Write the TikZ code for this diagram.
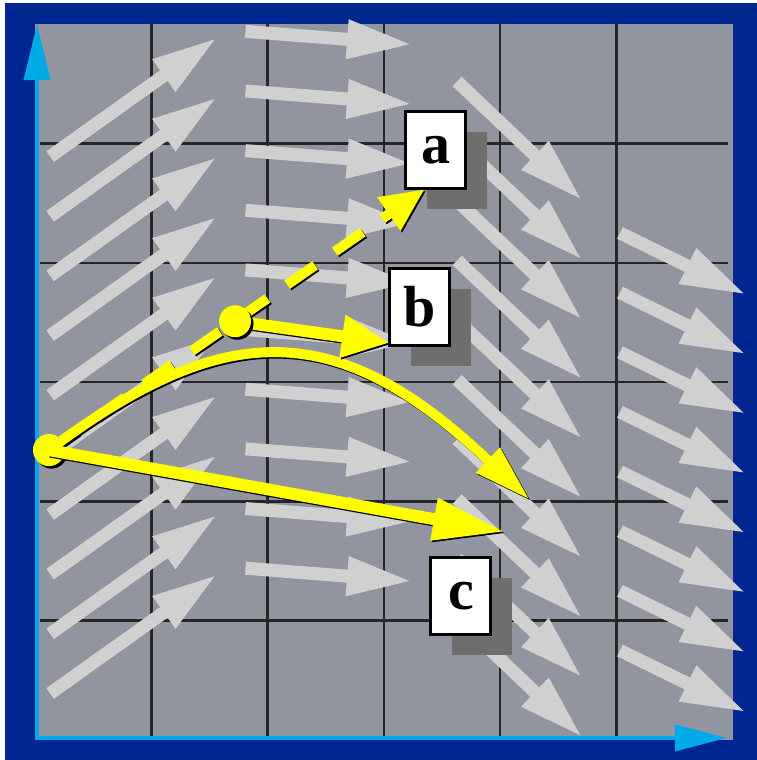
\documentclass[tikz,border=0pt]{standalone}
\usepackage{fontspec}
\setmainfont{Liberation Serif}
\usepackage{tikz}
\usetikzlibrary{arrows.meta,shadows}
\definecolor{FrameBlue}{HTML}{002691}
\definecolor{PanelGrey}{HTML}{9294A0}
\definecolor{FieldGrey}{HTML}{D0D0D0}
\definecolor{AxisBlue}{HTML}{00AAE6}
\definecolor{ShadowGrey}{HTML}{6E6E6E}
\definecolor{PathYellow}{HTML}{FFFF00}

\begin{document}
\begin{tikzpicture}[x=116.3pt, y=119.3pt,
  field/.style={FieldGrey, line width=13pt, -{Triangle[length=66pt, width=36pt]}},
  trace shadow/.style={transform canvas={shift={(1.5pt,-1.5pt)}}},
  trace/.style 2 args={PathYellow, line width=#1, -{#2},
    preaction={draw=black, line width=#1, -{#2}, trace shadow}},
  dot/.style={circle, fill=PathYellow, inner sep=0pt, minimum size=32pt,
    drop shadow={shadow xshift=2.5pt, shadow yshift=-2.5pt, fill=black, opacity=1}},
  tag/.style={draw, fill=white, line width=3pt, minimum width=60pt, minimum height=77pt, inner sep=0pt,
    font=\fontsize{58pt}{60pt}\selectfont\bfseries,
    drop shadow={shadow xshift=21pt, shadow yshift=-21pt, fill=ShadowGrey, opacity=1}}]
  \useasboundingbox (-0.301,-0.168) rectangle (6.208,6.203);
  \fill[FrameBlue] (-0.258,-0.168) rectangle (6.208,6.178);
  \fill[PanelGrey] (0,0) rectangle (6,6);
  \foreach \i in {1,...,5} {
    \draw[line width=2.5pt, black!85] (\i,0) -- (\i,6);
    \draw[line width=2.5pt, black!85] (0.04,\i) -- (5.96,\i);
  }
  \foreach \k in {0,...,9} {
    \draw[field] (0.13,4.89-0.5*\k) -- ++(1.44,1.0);
    \draw[field] (1.81,5.94-0.5*\k) -- ++(1.44,-0.11);
    \draw[field] (3.63,5.52-0.5*\k) -- ++(1.08,-1.0);
  }
  \foreach \k in {0,...,7}
    \draw[field] (5.03,4.25-0.5*\k) -- ++(1.09,-0.52);
  \draw[AxisBlue, line width=4pt, line join=round, {Triangle[length=56pt, width=26pt]}-{Triangle[length=52pt, width=26pt]}]
    (0.017,6) -- (0.017,0.017) -- (5.95,0.017);

  \node[dot] (start) at (0.12,2.43) {};
  \coordinate (mid) at (1.72,3.51);
  \coordinate (toA) at (3.353,4.618);
  \coordinate (toB) at (3.052,3.328);
  \coordinate (bend) at (4.256,2.012);
  \coordinate (toC) at (4.041,1.744);
  \draw[trace shadow/.append style={dash pattern=on 34pt off 24pt},
    trace={10pt}{Triangle[length=44pt, width=38pt]}, dash pattern=on 34pt off 24pt] (start.center) -- (toA);
  \draw[trace={10pt}{Triangle[length=58pt, width=32pt]}] (start.center) .. controls (1.617,3.52) and (2.58,3.562) .. (bend);
  \draw[trace={12pt}{Triangle[length=72pt, width=40pt]}] (start.center) -- (toC);
  \draw[trace={12pt}{Triangle[length=48pt, width=40pt]}] (mid) -- (toB);
  \node[dot] (midDot) at (mid) {};

  \node[tag] (labA) at (3.448,4.946) {a};
  \node[tag] (labB) at (3.31,3.63) {b};
  \node[tag] (labC) at (3.663,1.207) {c};
\end{tikzpicture}
\end{document}
